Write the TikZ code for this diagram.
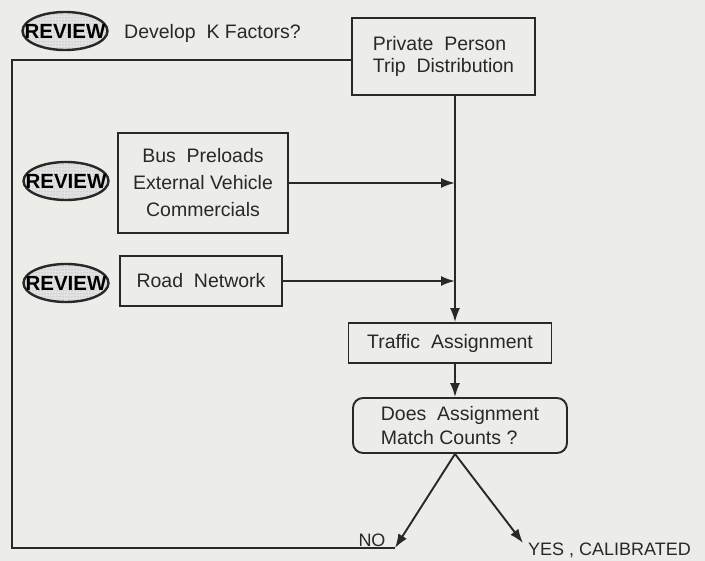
\documentclass[tikz,border=0pt]{standalone}
\usepackage{fontspec}
\setmainfont{Liberation Sans}
\usetikzlibrary{arrows.meta,shapes.geometric,patterns}
\definecolor{paper}{RGB}{236,236,233}
\definecolor{ink}{RGB}{40,40,40}

\begin{document}
\begin{tikzpicture}[x=1pt, y=-1pt, >={Latex[length=14pt,width=10pt]},
    box/.style={draw=ink, line width=1.9pt, text=ink, inner sep=0pt,
      font=\fontsize{19.5}{22}\selectfont},
    review/.style={ellipse, draw=ink, line width=2.4pt, preaction={fill=gray!22},
      pattern=dots, pattern color=gray!80, text=black,
      inner sep=0pt, minimum width=85pt, minimum height=38pt,
      font=\bfseries\fontsize{20.5}{20.5}\selectfont},
    link/.style={draw=ink, line width=1.9pt},
    tag/.style={text=ink, inner sep=0pt, font=\fontsize{18}{18}\selectfont}]
    \fill[paper] (0,0) rectangle (705,561);
    % review marks and the boxes that feed the assignment
    \node[review] (rev1) at (65,31) {\makebox[0pt]{REVIEW}};
    \node[text=ink, anchor=west, inner sep=0pt, font=\fontsize{19.5}{19.5}\selectfont] (kfac) at (124,33) {Develop\ \ K Factors?};
    \node[box, minimum width=183pt, minimum height=77pt, align=left] (dist) at (443.5,56.5) {Private\ \ Person\\Trip\ \ Distribution};
    \node[box, minimum width=170pt, minimum height=100pt, align=center,
      font=\fontsize{19.5}{27}\selectfont] (bus) at (203,183) {Bus\ \ Preloads\\External Vehicle\\Commercials};
    \node[review] (rev2) at (66,181) {\makebox[0pt]{REVIEW}};
    \node[box, minimum width=162pt, minimum height=50pt] (road) at (201,281) {Road\ \ Network};
    \node[review] (rev3) at (66,283) {\makebox[0pt]{REVIEW}};
    \node[box, minimum width=203pt, minimum height=40pt] (assign) at (450,343) {Traffic\ \ Assignment};
    \node[box, rounded corners=10pt, minimum width=214pt, minimum height=55pt, align=left,
      font=\fontsize{19.5}{24}\selectfont] (match) at (460,425.5) {Does\ \ Assignment\\Match Counts ?};
    % trunk line and the loop back
    \coordinate (spine) at (455,0);
    \coordinate (no) at (395,548);
    \coordinate (yes) at (523,543);
    \coordinate (loop) at (12,60);
    \draw[link, ->] (dist.south -| spine) -- (assign.north -| spine);
    \draw[link, ->] (bus.east) -- (bus.east -| spine);
    \draw[link, ->] (road.east) -- (road.east -| spine);
    \draw[link, ->] (assign.south -| spine) -- (match.north -| spine);
    \draw[link, ->] (match.south -| spine) -- (no);
    \draw[link, ->] (match.south -| spine) -- (yes);
    \draw[link] (no) -- (loop |- no) -- (loop) -- (dist.west |- loop);
    \node[tag] (nolab) at (372,540) {NO};
    \node[tag, anchor=west] (yeslab) at (528,550) {YES , CALIBRATED};
\end{tikzpicture}
\end{document}
